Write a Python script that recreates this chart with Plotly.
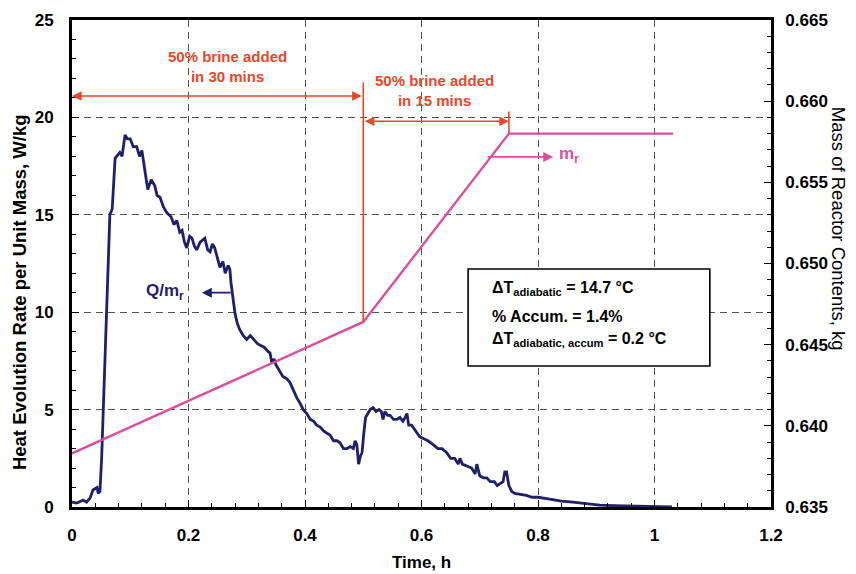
import plotly.graph_objects as go

# ---- data ----
time_q = [0.000, 0.008, 0.015, 0.019, 0.025, 0.031, 0.036, 0.043, 0.045, 0.048,
          0.051, 0.055, 0.060, 0.065, 0.069, 0.074, 0.082, 0.086, 0.091, 0.095,
          0.100, 0.105, 0.111, 0.116, 0.120, 0.125, 0.130, 0.136, 0.142, 0.146,
          0.151, 0.157, 0.163, 0.170, 0.175, 0.180, 0.185, 0.189, 0.193, 0.197,
          0.202, 0.206, 0.210, 0.214, 0.220, 0.228, 0.233, 0.237, 0.241, 0.245,
          0.250, 0.254, 0.259, 0.263, 0.268, 0.271, 0.273, 0.275, 0.280, 0.284,
          0.288, 0.294, 0.300, 0.306, 0.312, 0.318, 0.323, 0.330, 0.336, 0.340,
          0.343, 0.347, 0.350, 0.356, 0.362, 0.368, 0.374, 0.380, 0.386, 0.392,
          0.397, 0.403, 0.409, 0.415, 0.420, 0.426, 0.432, 0.437, 0.443, 0.449,
          0.455, 0.460, 0.466, 0.472, 0.478, 0.483, 0.486, 0.489, 0.492, 0.495,
          0.498, 0.501, 0.504, 0.508, 0.512, 0.517, 0.522, 0.527, 0.531, 0.534,
          0.537, 0.542, 0.546, 0.552, 0.558, 0.563, 0.568, 0.572, 0.575, 0.578,
          0.583, 0.590, 0.597, 0.604, 0.611, 0.620, 0.628, 0.635, 0.643, 0.650,
          0.657, 0.663, 0.666, 0.670, 0.678, 0.686, 0.692, 0.695, 0.700, 0.706,
          0.712, 0.718, 0.725, 0.730, 0.735, 0.740, 0.743, 0.746, 0.750, 0.755,
          0.760, 0.770, 0.780, 0.790, 0.800, 0.820, 0.840, 0.860, 0.880, 0.906,
          0.930, 0.960, 0.998, 1.030]
q_per_mass = [0.25, 0.20, 0.30, 0.36, 0.25, 0.46, 0.87, 1.0, 0.7, 0.8,
              2.6, 6.0, 10.5, 15.0, 15.3, 17.9, 18.2, 18.0, 19.1, 18.9,
              18.9, 18.5, 18.5, 18.0, 18.3, 17.4, 16.3, 16.8, 16.5, 16.0,
              15.9, 15.4, 15.1, 14.9, 14.5, 14.7, 14.1, 14.2, 13.6, 13.3,
              13.9, 13.8, 13.4, 13.2, 13.6, 13.8, 13.2, 13.1, 13.5, 13.3,
              12.7, 12.3, 12.6, 12.0, 12.4, 12.2, 11.5, 11.0, 9.9, 9.4,
              9.1, 8.8, 8.6, 8.8, 8.6, 8.4, 8.3, 8.2, 8.0, 7.9,
              7.4, 7.6, 7.3, 7.0, 6.7, 6.6, 6.4, 6.0, 5.6, 5.3,
              5.0, 4.8, 4.5, 4.4, 4.2, 4.1, 3.9, 3.8, 3.7, 3.4,
              3.4, 3.3, 3.0, 3.0, 3.1, 3.0, 3.4, 3.2, 2.2, 2.6,
              2.8, 3.8, 4.6, 4.8, 5.0, 5.1, 4.9, 5.0, 4.9, 4.5,
              4.9, 4.7, 4.7, 4.5, 4.5, 4.6, 4.4, 4.6, 4.8, 4.2,
              4.2, 3.9, 3.6, 3.5, 3.4, 3.2, 3.0, 3.0, 2.8, 2.5,
              2.5, 2.2, 2.5, 2.2, 2.1, 2.0, 1.7, 2.2, 1.6, 1.5,
              1.5, 1.3, 1.3, 1.1, 1.2, 1.3, 1.8, 1.8, 1.1, 0.8,
              0.7, 0.65, 0.6, 0.5, 0.5, 0.4, 0.3, 0.25, 0.17, 0.10,
              0.07, 0.04, 0.01, 0.0]

time_m = [0.0, 0.5, 0.75, 1.032]
mass_r = [0.6383, 0.6464, 0.6580, 0.6580]

x_ticks = [0, 0.2, 0.4, 0.6, 0.8, 1.0, 1.2]
x_ticktext = ["0", "0.2", "0.4", "0.6", "0.8", "1", "1.2"]
y_ticks = [0, 5, 10, 15, 20, 25]
y2_ticks = [0.635, 0.640, 0.645, 0.650, 0.655, 0.660, 0.665]

# ---- styles ----
FONT = "Liberation Sans, Arial, sans-serif"
NAVY = "#1f1f6b"
PINK = "#dc4f9c"
RED = "#e8482c"
GRID = "#555555"

fig = go.Figure()
fig.add_trace(go.Scatter(x=time_q, y=q_per_mass, mode="lines",
                         line=dict(color=NAVY, width=2.8), yaxis="y",
                         showlegend=False, hoverinfo="skip"))
fig.add_trace(go.Scatter(x=time_m, y=mass_r, mode="lines",
                         line=dict(color=PINK, width=2.4), yaxis="y2",
                         showlegend=False, hoverinfo="skip"))

tickfont = dict(family=FONT, size=17, color="black", weight="bold")

# the page body has an 8px margin, so the figure is 8px smaller each way
fig.update_layout(
    width=848, height=566,
    margin=dict(l=64, r=85, t=12, b=67, autoexpand=False),
    paper_bgcolor="white", plot_bgcolor="white",
    xaxis=dict(range=[0, 1.2], tickvals=x_ticks, ticktext=x_ticktext,
               ticks="inside", ticklen=7, tickcolor="black", tickwidth=1,
               minor=dict(ticks="inside", ticklen=4, dtick=0.04, tickcolor="black", showgrid=False),
               showgrid=True, gridcolor=GRID, griddash="7px,5px", gridwidth=1.2,
               showline=True, linecolor="black", linewidth=2.8, mirror=True,
               zeroline=False, tickfont=tickfont, ticklabelstandoff=11),
    yaxis=dict(range=[0, 25], tickvals=y_ticks,
               ticks="inside", ticklen=7, tickcolor="black", tickwidth=1,
               minor=dict(ticks="inside", ticklen=4, dtick=1, tickcolor="black", showgrid=False),
               showgrid=True, gridcolor=GRID, griddash="7px,5px", gridwidth=1.2,
               showline=True, linecolor="black", linewidth=2.8,
               zeroline=False, tickfont=tickfont, ticklabelstandoff=12),
    yaxis2=dict(range=[0.635, 0.665], tickvals=y2_ticks, tickformat=".3f",
                overlaying="y", side="right",
                ticks="inside", ticklen=7, tickcolor="black", tickwidth=1,
                minor=dict(ticks="inside", ticklen=4, dtick=0.001, tickcolor="black", showgrid=False),
                showgrid=False, showline=True, linecolor="black", linewidth=2.8,
                zeroline=False, tickfont=tickfont, ticklabelstandoff=8),
)

# axis titles
fig.add_annotation(text="<b>Time, h</b>", xref="paper", yref="paper", x=0.5, y=-0.113,
                   showarrow=False, font=dict(family=FONT, size=17, color="black"),
                   xanchor="center", yanchor="middle")
fig.add_annotation(text="<b>Heat Evolution Rate per Unit Mass, W/kg</b>", xref="paper", yref="paper",
                   x=-0.076, y=0.441, textangle=-90, showarrow=False,
                   font=dict(family=FONT, size=18.5, color="black"),
                   xanchor="center", yanchor="middle")
fig.add_annotation(text="Mass of Reactor Contents, kg", xref="paper", yref="paper",
                   x=1.096, y=0.571, textangle=90, showarrow=False,
                   font=dict(family=FONT, size=18.5, color="black"),
                   xanchor="center", yanchor="middle")

# brine-addition annotations
fig.add_annotation(x=0.0, y=21.1, ax=0.5, ay=21.1, xref="x", yref="y", axref="x", ayref="y",
                   text="", showarrow=True, arrowside="end+start", arrowhead=2,
                   arrowsize=1.2, arrowwidth=1.6, arrowcolor=RED)
fig.add_annotation(x=0.75, y=19.8, ax=0.5, ay=19.8, xref="x", yref="y", axref="x", ayref="y",
                   text="", showarrow=True, arrowside="end+start", arrowhead=2,
                   arrowsize=1.2, arrowwidth=1.6, arrowcolor=RED)
fig.add_shape(type="line", xref="x", yref="y", x0=0.5, x1=0.5, y0=21.8, y1=9.5,
              line=dict(color=RED, width=1.6))
fig.add_shape(type="line", xref="x", yref="y", x0=0.75, x1=0.75, y0=20.3, y1=19.2,
              line=dict(color=RED, width=1.6))
fig.add_annotation(text="<b>50% brine added<br>in 30 mins</b>", xref="x", yref="y",
                   x=0.267, y=22.6, showarrow=False, align="center",
                   font=dict(family=FONT, size=15, color=RED))
fig.add_annotation(text="<b>50% brine added<br>in 15 mins</b>", xref="x", yref="y",
                   x=0.623, y=21.4, showarrow=False, align="center",
                   font=dict(family=FONT, size=15, color=RED))

# series labels
fig.add_annotation(x=0.826, y=17.97, ax=0.711, ay=17.97, xref="x", yref="y", axref="x", ayref="y",
                   text="", showarrow=True, arrowhead=2, arrowsize=1.1, arrowwidth=1.8,
                   arrowcolor=PINK)
fig.add_annotation(text="<b>m<sub>r</sub></b>", xref="x", yref="y", x=0.833, y=18.05,
                   xanchor="left", showarrow=False, font=dict(family=FONT, size=17, color=PINK))
fig.add_annotation(x=0.223, y=11.0, ax=0.275, ay=11.0, xref="x", yref="y", axref="x", ayref="y",
                   text="", showarrow=True, arrowhead=2, arrowsize=1.1, arrowwidth=1.8,
                   arrowcolor=NAVY)
fig.add_annotation(text="<b>Q/m<sub>r</sub></b>", xref="x", yref="y", x=0.16, y=11.05,
                   xanchor="center", showarrow=False, font=dict(family=FONT, size=17, color=NAVY))

# info box
fig.add_shape(type="rect", xref="x", yref="y", x0=0.680, x1=1.095, y0=7.24, y1=12.22,
              line=dict(color="black", width=1.6), fillcolor="white", layer="above")
box_lines = ["<b>ΔT<sub>adiabatic</sub> = 14.7 °C</b>",
             "<b>% Accum. = 1.4%</b>",
             "<b>ΔT<sub>adiabatic, accum</sub> = 0.2 °C</b>"]
box_y = [11.2, 9.8, 8.6]
for txt, yy in zip(box_lines, box_y):
    fig.add_annotation(text=txt, xref="x", yref="y", x=0.717, y=yy, xanchor="left",
                       yanchor="middle", showarrow=False,
                       font=dict(family=FONT, size=16, color="black"))

fig.write_html("out.html")
